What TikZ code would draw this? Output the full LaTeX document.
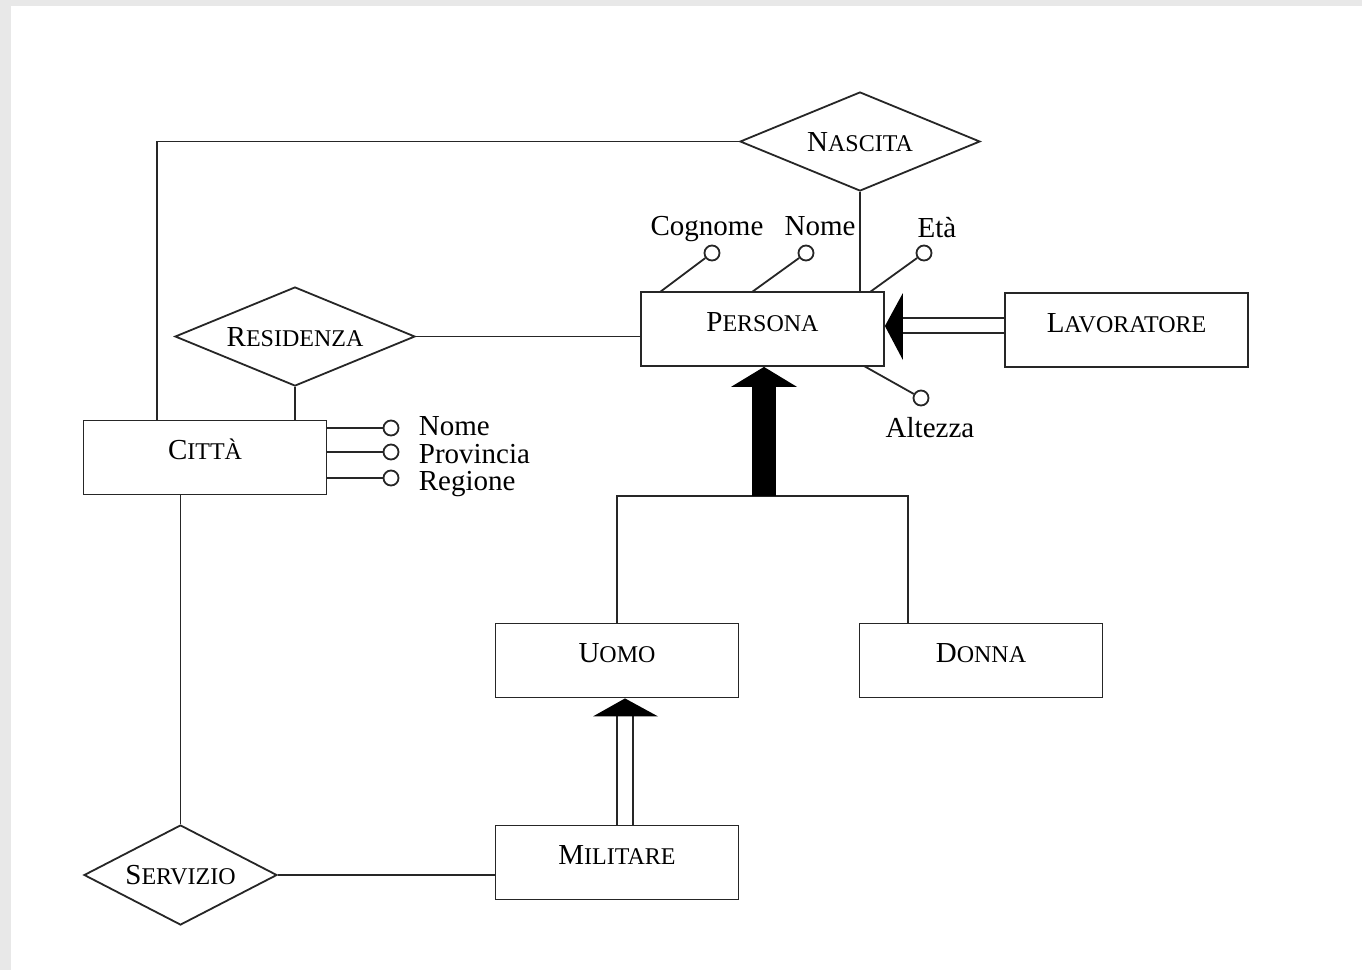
\documentclass[tikz,border=0pt]{standalone}
\usepackage{fontspec}
\setmainfont{Liberation Serif}
\usetikzlibrary{shapes.geometric}
\newcommand{\scname}[2]{#1{\fontsize{24}{26}\selectfont #2}}

\begin{document}
\begin{tikzpicture}[x=1pt,y=-1pt,line width=1.8pt,
  every node/.style={font=\fontsize{29}{32}\selectfont},
  entity/.style={draw=black!85,rectangle,minimum width=243pt,minimum height=74pt,inner sep=0pt,text height=19pt,text depth=15pt},
  relation/.style={draw=black!85,diamond,aspect=2.4,minimum width=240pt,minimum height=99pt,inner sep=0pt,text height=19pt,text depth=0pt},
  attr/.style={draw=black!85,circle,fill=white,minimum size=15pt,inner sep=0pt},
  attrname/.style={inner sep=0pt},
  conn/.style={draw=black!85,line width=1.8pt}]
  \fill[black!9] (0,0) rectangle (1362,970);
  \fill[white] (11,6) rectangle (1362,970);
  \useasboundingbox (0,0) rectangle (1362,970);

  \node[entity]   (persona)    at (762.5,329)  {\scname{P}{ERSONA}};
  \node[entity]   (lavoratore) at (1126.5,330) {\scname{L}{AVORATORE}};
  \node[entity]   (citta)      at (205,457.5)  {\scname{C}{ITTÀ}};
  \node[entity]   (uomo)       at (617,660.5)  {\scname{U}{OMO}};
  \node[entity]   (donna)      at (981,660.5)  {\scname{D}{ONNA}};
  \node[entity]   (militare)   at (617,862.5)  {\scname{M}{ILITARE}};
  \node[relation] (nascita)    at (860,141.5)  {\scname{N}{ASCITA}};
  \node[relation] (residenza)  at (295,336.5)  {\scname{R}{ESIDENZA}};
  \node[relation,minimum width=193pt,minimum height=100pt] (servizio) at (180.5,875) {\scname{S}{ERVIZIO}};

  \coordinate (ctop)  at (157,420);
  \coordinate (gmid)  at (764,496);
  \coordinate (dtop)  at (908,623);
  \coordinate (lbase) at (902,326);

  % relationships
  \path[conn] (nascita.west) -| (ctop);
  \path[conn] (nascita.south) edge (nascita.south |- persona.north);
  \path[conn] (residenza.east) edge (residenza.east -| persona.west);
  \path[conn] (residenza.south) edge (residenza.south |- citta.north);
  \path[conn] (servizio.north) edge (servizio.north |- citta.south);
  \path[conn] (servizio.east) edge (servizio.east -| militare.west);

  % attributes
  \node[attr] (cog) at (712,253) {};
  \node[attr] (nom) at (806,253) {};
  \node[attr] (eta) at (924,253) {};
  \node[attr] (alt) at (921,398) {};
  \node[attr] (cnom) at (391,428) {};
  \node[attr] (cprov) at (391,452) {};
  \node[attr] (creg) at (391,478) {};
  \path[conn] (660,292) edge (cog);
  \path[conn] (752,292) edge (nom);
  \path[conn] (870,292) edge (eta);
  \path[conn] (864,366) edge (alt);
  \path[conn] (cnom -| citta.east) edge (cnom);
  \path[conn] (cprov -| citta.east) edge (cprov);
  \path[conn] (creg -| citta.east) edge (creg);
  \node[attrname,anchor=base] (lcog) at (707,235) {Cognome};
  \node[attrname,anchor=base] (lnom) at (820,235) {Nome};
  \node[attrname,anchor=base] (leta) at (937,237) {Età};
  \node[attrname,anchor=base] (lalt) at (930,437) {Altezza};
  \node[attrname,anchor=base west] (lcnom) at (418,435) {Nome};
  \node[attrname,anchor=base west] (lcprov) at (418,463) {Provincia};
  \node[attrname,anchor=base west] (lcreg) at (418,490) {Regione};

  % generalizations
  \path[conn] (uomo.north) |- (gmid) -| (dtop);
  \fill[black] ([xshift=-12pt]gmid) rectangle ([xshift=12pt]gmid |- 0,386);
  \fill[black] (persona.south -| gmid) -- ++(-33,20) -- ++(66,0) -- cycle;
  \path[conn] ([yshift=12pt]lavoratore.west) edge ([yshift=12pt]lavoratore.west -| lbase);
  \path[conn] ([yshift=-3pt]lavoratore.west) edge ([yshift=-3pt]lavoratore.west -| lbase);
  \fill[black] ([yshift=3pt]persona.east) -- ++(18,-33) -- ++(0,67) -- cycle;
  \path[conn] (militare.north) edge ([yshift=-9pt]militare.north |- uomo.south);
  \path[conn] ([xshift=16pt]militare.north) edge ([xshift=16pt,yshift=-9pt]militare.north |- uomo.south);
  \fill[black] ([xshift=8pt]uomo.south) -- ++(-32,18) -- ++(65,0) -- cycle;
\end{tikzpicture}
\end{document}
